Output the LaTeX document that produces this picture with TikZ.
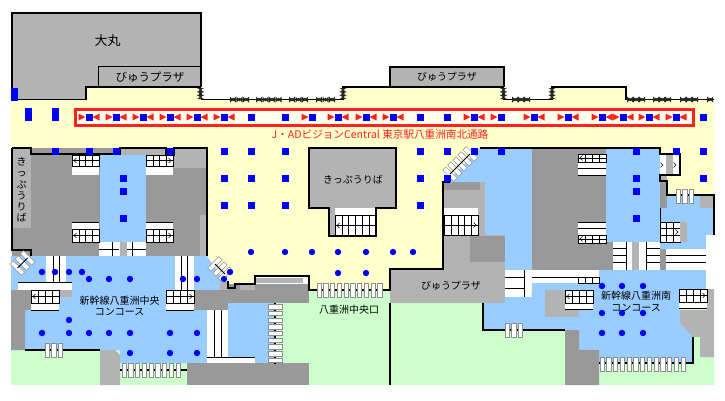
\documentclass[tikz,border=0pt]{standalone}
\usepackage{fontspec}
\setmainfont{Noto Sans CJK JP}
\usepackage{tikz}
\definecolor{creamfill}{HTML}{FFFFCC}
\definecolor{bandfill}{HTML}{FFFFEE}
\definecolor{bluefill}{HTML}{99CCFF}
\definecolor{greenfill}{HTML}{CCFFCC}
\definecolor{darkfill}{HTML}{999999}
\definecolor{lightfill}{HTML}{B3B3B3}
\definecolor{markblue}{HTML}{0000FF}
\definecolor{bandred}{HTML}{FF2020}
\tikzstyle{wall} = [line width=1.6pt, black, line join=miter]
\tikzstyle{thinwall} = [line width=1pt, black]
\tikzstyle{stairline} = [line width=0.9pt, black]
\tikzstyle{stairthin} = [line width=0.6pt, black]
\tikzstyle{doorstrip} = [fill=white, draw=black!45, line width=0.5pt]
\tikzstyle{doormark} = [fill=black!85]
\tikzstyle{label} = [text=black, inner sep=0pt, font=\fontsize{10}{11.2}\selectfont, align=center]
\newcommand{\stairgrid}[6]{
  \fill[white] (#1,#2) rectangle ++(#3,#4);
  \foreach \i in {1,...,#5} \draw[stairthin] (#1+\i*#3/#5,#2) -- ++(0,#4);
  \foreach \i in {1,...,#6} \draw[stairthin] (#1,#2+\i*#4/#6) -- ++(#3,0);
  \draw[stairline] (#1,#2) rectangle ++(#3,#4);
}
\begin{document}
\begin{tikzpicture}[x=1pt,y=-1pt]
\useasboundingbox (0,0) rectangle (725,400);
\fill[greenfill] (11,290) rectangle (714,385);
% floors
\fill[creamfill] (11,100) -- (86,100) -- (86,87) -- (201,87) -- (201,99) -- (343,99) -- (343,87) -- (503,87) -- (503,99) -- (552,99) -- (552,87) -- (626,87) -- (626,99) -- (714,99) -- (714,195) -- (667,195) -- (667,181) -- (660,181) -- (660,148) -- (480,148) -- (443,182) -- (443,269) -- (390,269) -- (390,290) -- (309,290) -- (309,276) -- (255,276) -- (255,284) -- (228,284) -- (207,256) -- (207,148) -- (11,148) -- cycle;
\fill[creamfill] (11,250) -- (31,250) -- (31,256) -- (11,275) -- cycle;
\fill[lightfill] (12,13) rectangle (201,87);
\fill[lightfill] (12,87) rectangle (86,99.5);
\fill[lightfill] (390,67) rectangle (504,87);
\fill[lightfill] (309,148) rectangle (396,208);
\fill[lightfill] (329,208) rectangle (376,236);
\fill[darkfill] (12,148) rectangle (207,256);
\fill[lightfill] (12,148) rectangle (31,228);
\fill[lightfill] (120,148) rectangle (166,155);
\fill[lightfill] (174,148) rectangle (207,168);
\fill[lightfill] (200,215) rectangle (207,256);
\fill[bluefill] (100,155) rectangle (146,256);
\fill[bluefill] (11,256) -- (207,256) -- (222,278) -- (220,290) -- (194,290) -- (194,310) -- (207,310) -- (207,363) -- (120,363) -- (120,350) -- (25,350) -- (25,310) -- (31,310) -- (31,290) -- (11,290) -- cycle;
\fill[darkfill] (11,290) -- (31,290) -- (31,310) -- (25,310) -- (25,350) -- (11,350) -- cycle;
\fill[darkfill] (194,290) rectangle (228,310);
\fill[darkfill] (228,284) rectangle (309,303);
\fill[lightfill] (220,282) rectangle (228,290);
\fill[lightfill] (255,278) rectangle (303,283);
\fill[lightfill] (240,285) rectangle (255,290);
\fill[lightfill] (59,290) rectangle (72,297);
\fill[bluefill] (228,303) rectangle (274,363);
\fill[lightfill] (100,350) -- (115,350) -- (120,355) -- (120,385) -- (100,385) -- cycle;
\fill[darkfill] (187,363) rectangle (309,385);
% south side
\fill[lightfill] (390,269) -- (443,269) -- (443,182) -- (485,182) -- (485,235) -- (505,235) -- (505,303) -- (390,303) -- cycle;
\fill[darkfill] (443,182) rectangle (485,190);
\fill[darkfill] (470,236) rectangle (505,262);
\fill[bluefill] (480,148) -- (532,148) -- (532,270) -- (505,270) -- (505,235) -- (485,235) -- (485,182) -- (447,182) -- cycle;
\fill[lightfill] (480,182) rectangle (485,200);
\fill[darkfill] (532,148) rectangle (606,270);
\fill[darkfill] (606,242) rectangle (666,270);
\fill[bluefill] (606,148) rectangle (660,242);
\fill[darkfill] (660,181) rectangle (667,208);
\fill[lightfill] (660,175) rectangle (667,181);
\fill[bluefill] (667,195) -- (700,195) -- (700,208) -- (714,208) -- (714,235) -- (706,235) -- (706,249) -- (660,249) -- (660,208) -- (667,208) -- cycle;
\fill[lightfill] (700,195) rectangle (714,208);
\fill[bluefill] (532,283) -- (599,283) -- (599,270) -- (706,270) -- (706,289) -- (680,289) -- (680,323) -- (693,337) -- (693,363) -- (599,363) -- (599,350) -- (579,350) -- (579,330) -- (483,330) -- (483,303) -- (505,303) -- (505,297) -- (532,297) -- cycle;
\fill[lightfill] (545,290) rectangle (579,317);
\fill[darkfill] (565,330) -- (579,330) -- (579,350) -- (599,350) -- (599,385) -- (565,385) -- cycle;
\fill[lightfill] (680,310) -- (707,310) -- (707,289) -- (714,289) -- (714,357) -- (700,357) -- (700,337) -- (693,337) -- (680,323) -- cycle;
% wide stairs
\fill[white] (99,242) rectangle (120,256);
\fill[white] (127,242) rectangle (146,256);
\fill[lightfill] (120,242) rectangle (127,256);
\draw[stairthin] (99,249) -- (119,249) (127,249) -- (146,249);
\draw[stairline] (112,242) -- (112,256) (132,242) -- (132,256);
\fill[white] (46,256) rectangle (66,282);
\fill[white] (18,282) rectangle (72,290);
\draw[stairthin] (18,282) -- (72,282);
\draw[stairline] (53,256) -- (53,282) (59,256) -- (59,282);
\fill[white] (175,256) rectangle (194,290);
\draw[stairline] (181,256) -- (181,290) (187,256) -- (187,290);
\fill[white] (207,310) rectangle (228,363);
\draw[stairline] (214,310) -- (214,357) (221,310) -- (221,357);
\fill[white] (207,357) rectangle (255,363);
\draw[stairthin] (207,357) -- (255,357);
\fill[white] (613,242) rectangle (632,270);
\fill[white] (639,242) rectangle (660,270);
\fill[lightfill] (632,242) rectangle (639,270);
\draw[stairthin] (613,248) -- (626,248) (613,255) -- (626,255) (613,262) -- (626,262) (646,248) -- (660,248) (646,255) -- (660,255) (646,262) -- (660,262);
\draw[stairline] (626,242) -- (626,270) (646,242) -- (646,270);
\fill[white] (666,249) rectangle (706,270);
\draw[stairthin] (666,255) -- (706,255) (666,262) -- (706,262);
\fill[white] (706,235) rectangle (713,289);
\fill[white] (505,270) rectangle (531,297);
\draw[stairthin] (505,277) -- (524,277) (505,288) -- (524,288);
\draw[stairline] (524,270) -- (524,297);
\fill[white] (532,270) rectangle (599,283);
\draw[stairthin] (532,277) -- (599,277);
\stairgrid{578}{277}{21}{6}{3}{1}
% stairs with steps
\fill[white] (72,166) rectangle (99,175);
\fill[white] (146,166) rectangle (173,175);
\fill[white] (72,222) rectangle (99,229);
\fill[white] (146,222) rectangle (173,229);
\fill[white] (31,303) rectangle (59,310);
\fill[white] (166,303) rectangle (194,310);
\fill[white] (335,208) rectangle (376,215);
\fill[white] (444,208) rectangle (478,215);
\fill[white] (578,162) rectangle (606,175);
\fill[white] (578,222) rectangle (606,235);
\fill[white] (565,303) rectangle (593,309);
\fill[white] (679,302) rectangle (707,308);
\draw[stairthin] (72,222) -- (99,222) (146,222) -- (173,222) (31,310) -- (59,310) (166,310) -- (194,310) (578,168) -- (606,168) (578,175) -- (606,175) (578,222) -- (606,222) (578,228) -- (606,228) (565,309) -- (593,309) (679,308) -- (707,308);
\stairgrid{72}{155}{27.5}{11}{4}{2}
\stairgrid{146}{155}{27.5}{11}{4}{2}
\stairgrid{72}{229}{27.5}{13}{4}{2}
\stairgrid{146}{229}{27.5}{13}{4}{2}
\stairgrid{31}{290}{28}{13}{4}{2}
\stairgrid{166}{290}{28}{13}{4}{2}
\stairgrid{335}{215}{41}{21}{6}{2}
\stairgrid{444}{215}{34.5}{20}{5}{2}
\stairgrid{578}{154}{28}{8}{4}{2}
\stairgrid{578}{235}{28}{8}{4}{2}
\stairgrid{565}{290}{28}{13}{4}{2}
\stairgrid{679}{289}{28}{13}{4}{2}
\stairgrid{660}{222}{20}{20}{3}{3}
\fill[lightfill] (680,222) rectangle (687,242);
\fill[white] (660,155) rectangle (680,175);
\fill[lightfill] (666,155) rectangle (673,175);
\foreach \x/\y in {74/160.5, 74/235.5, 33/296.5, 337/225.5, 580/158, 580/239, 567/296.5}
  \draw[stairthin] (\x+2.5,\y-2.5) -- (\x,\y) -- (\x+2.5,\y+2.5);
\foreach \x/\y in {171/160.5, 171/235.5, 192/296.5, 476/225, 705/295.5, 678/232, 663/165, 676/165}
  \draw[stairthin] (\x-2.5,\y-2.5) -- (\x,\y) -- (\x-2.5,\y+2.5);
% walls
\draw[wall] (12,99.5) -- (12,13) -- (201,13) -- (201,87);
\draw[wall] (12,99.5) -- (86,99.5) -- (86,87) -- (200.5,87);
\draw[wall] (98.5,87) -- (98.5,66.5) -- (200.5,66.5);
\draw[wall] (343,99.5) -- (343,87) -- (503.5,87) -- (503.5,99.5);
\draw[wall] (390,87) -- (390,67) -- (504,67) -- (504,87);
\draw[wall] (200.5,99.5) -- (343,99.5);
\draw[wall] (503.5,99.5) -- (552,99.5) -- (552,87) -- (626,87) -- (626,99.5) -- (714,99.5);
\draw[wall] (12,148) -- (31,148) -- (31,154) -- (120,154) -- (120,148) -- (166,148) -- (166,155) -- (174,155) -- (174,148) -- (207,148) -- (207,256);
\draw[wall] (12,148) -- (12,250) -- (31,250) -- (31,256);
\draw[wall] (228,281) -- (228,288) -- (235,288) -- (235,284) -- (255,284) -- (255,276) -- (309,276) -- (309,290) -- (390,290) -- (390,269) -- (443,269) -- (443,182) -- (450,182);
\draw[wall] (309,208) -- (309,148) -- (396,148) -- (396,208) -- (376,208) -- (376,236) -- (329,236) -- (329,208) -- cycle;
\draw[wall] (480,148) -- (660,148) -- (660,154) -- (680,154) -- (680,175) -- (660,175) -- (660,181) -- (667,181) -- (667,195) -- (714,195) -- (714,235);
\draw[thinwall] (660,208) -- (660,222);
\draw[wall] (25,350) -- (100,350);
\draw[wall] (120,370) -- (187,370);
\draw[wall] (483,303) -- (483,330) -- (565,330);
\draw[wall] (693,337) -- (693,363) -- (599,363);
\draw[wall] (390,303) -- (390,385);
\draw[wall] (275,303) -- (275,364);
% doors
\foreach \x/\y/\n in {47/343/2, 124/363/8, 319/283/9, 507/323/2, 602/357/12, 678/189/2}
  \foreach \i in {0,...,\n}
    \draw[doorstrip] (\x+\i*6.75-2.2,\y) rectangle ++(4.4,14);
\foreach \i in {0,...,8}
  \draw[doorstrip] (268,306.7+\i*6.7-2.2) rectangle ++(14,4.4);
\foreach \cx/\cy/\rot/\n/\half in {22.5/263/45/2/7.2, 220/269/-45/2/7.2, 460/164/45/4/14.4} {
  \begin{scope}[shift={(\cx,\cy)}, rotate=\rot]
    \foreach \i in {0,...,\n}
      \draw[doorstrip] (\i*7.2-\half-2.3,-8) rectangle ++(4.6,16);
    \draw[stairline] (-\half,0) -- (\half,0);
  \end{scope}
}
\foreach \x in {233,239.5,246,259,265.5,272,278.5,292,298.5,305,319,325.5,332,515,521,527,630,636,642,656,662,668,683,689,695,710} {
  \fill[doormark] (\x-3,96.5) -- (\x+3,102.5) -- (\x+3,96.5) -- (\x-3,102.5) -- cycle;
  \fill[doormark] (\x,99.5) circle (1.8);
}
\foreach \x in {200.5,343,503.5,552}
  \foreach \y in {90,93.5,97} {
    \fill[doormark] (\x-3.5,\y-2) -- (\x+3.5,\y+2) -- (\x-3.5,\y+2) -- (\x+3.5,\y-2) -- cycle;
    \fill[doormark] (\x,\y) circle (1.6);
  }
% ad band
\fill[bandfill] (75.5,109.5) rectangle (693.5,125.5);
\foreach \x in {316,508}
  \fill[white] (\x,113) rectangle ++(6,8);
\draw[line width=3pt, bandred] (75.5,109.5) rectangle (693.5,125.5);
\foreach \x in {89,116,143,170,197,224,312,338,366,393,474,501,534,568,602,623,649,676}
  \fill[bandred] (\x-10.5,113.5) -- (\x-3.5,117) -- (\x-10.5,120.5) -- cycle;
\foreach \x in {89,116,143,170,197,224,338,366,393,474,534,568,602,623,649,676}
  \fill[bandred] (\x+10.5,113.5) -- (\x+3.5,117) -- (\x+10.5,120.5) -- cycle;
% marks
\foreach \x in {89,116,143,170,197,224,251,285,312,338,366,393,420,447,474,501,534,568,602,623,649,676,703}
  \fill[markblue] (\x-3.5,113.5) rectangle ++(7,7);
\foreach \x/\y in {55/151,89/151,116/151,170/151,224/151,251/151,285/151,420/151,447/151,474/151,501/151,636/151,676/151,703/151,
  123/178,224/178,251/178,285/178,420/178,447/178,636/178,703/178,123/191,636/191,123/218,224/205,251/205,285/205,420/205,636/218}
  \fill[markblue] (\x-3.5,\y-3.5) rectangle ++(7,7);
\foreach \x in {28.5,55.5}
  \fill[markblue] (\x-3.5,108) rectangle ++(7,13);
\fill[markblue] (11,88) rectangle (18,100.5);
\foreach \x/\y in {251/252,285/252,312/252,338/252,366/252,393/252,413/252,338/273,366/273,
  42/272,55/272,69/272,82/272,89/279,109/279,130/279,183/279,197/279,230/272,224/279,
  69/320,42/333,69/333,89/333,109/333,130/333,170/333,197/333,130/353,170/353,197/353,
  602/286,622/286,643/286,602/313,622/313,643/313,602/333,622/333,643/333}
  \fill[markblue] (\x,\y) circle (3.2);
% labels
\node[label, font=\fontsize{13}{15}\selectfont] (daimaru) at (107.5,40.5) {大丸};
\node[label, font=\fontsize{11.5}{13}\selectfont] (plazaN) at (150,77) {びゅうプラザ};
\node[label] (plazaC) at (447,77) {びゅうプラザ};
\node[label] (plazaS) at (451,286) {びゅうプラザ};
\node[label] (kippuC) at (353,180) {きっぷうりば};
\node[label] (kippuW) at (21.5,190) {き\\っ\\ぷ\\う\\り\\ば};
\node[label, text=bandred, font=\fontsize{10.6}{12}\selectfont] (band) at (380,134.5) {J・ADビジョンCentral 東京駅八重洲南北通路};
\node[label] (chuo) at (119.5,306) {新幹線八重洲中央\\コンコース};
\node[label] (minami) at (636,301.5) {新幹線八重洲南\\コンコース};
\node[label] (exit) at (349,310) {八重洲中央口};
\end{tikzpicture}
\end{document}
